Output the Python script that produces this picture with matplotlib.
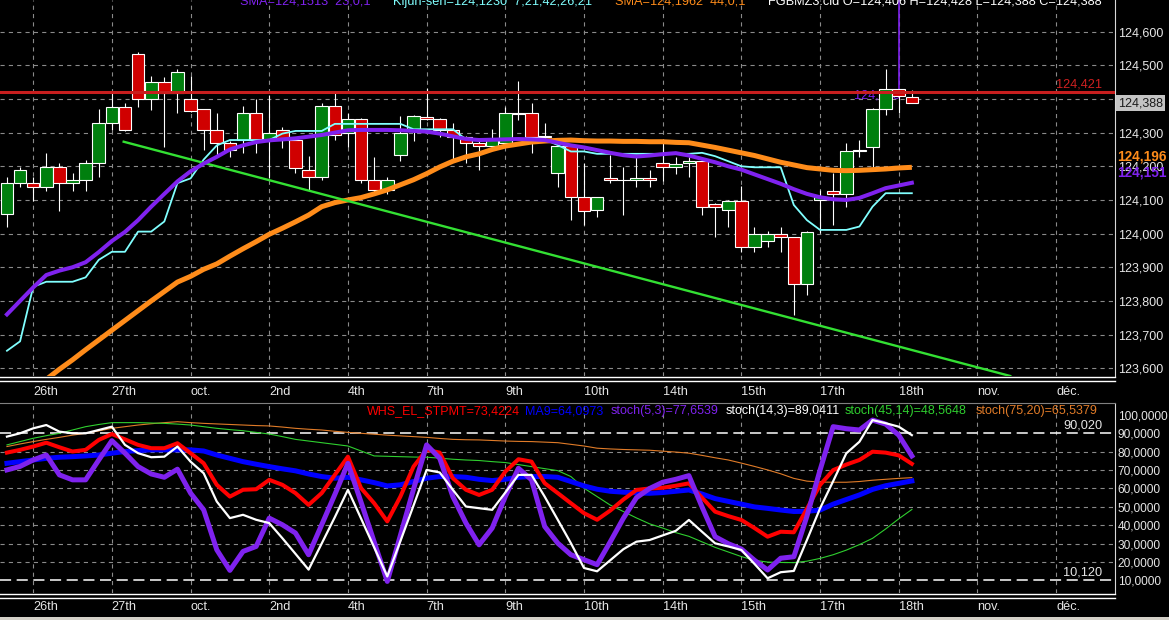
import matplotlib
matplotlib.use('Agg')
import matplotlib.pyplot as plt
from matplotlib.patches import Rectangle
from matplotlib.lines import Line2D
import matplotlib.transforms as mtransforms

plt.rcParams['font.family'] = ['Liberation Sans', 'DejaVu Sans']
plt.rcParams['lines.scale_dashes'] = False

# ---- price bars (FGBMZ3) ----
opens = [124.058, 124.150, 124.150, 124.138, 124.198, 124.150, 124.159, 124.209, 124.328, 124.377,
         124.533, 124.399, 124.450, 124.419, 124.401, 124.369, 124.308, 124.268, 124.278, 124.358,
         124.278, 124.308, 124.278, 124.189, 124.167, 124.379, 124.298, 124.340, 124.159, 124.130,
         124.234, 124.308, 124.347, 124.340, 124.308, 124.288, 124.268, 124.260, 124.268, 124.356,
         124.358, 124.290, 124.179, 124.260, 124.108, 124.070, 124.166, 124.159, 124.159, 124.164,
         124.211, 124.197, 124.209, 124.217, 124.088, 124.070, 124.098, 123.961, 123.979, 123.999,
         123.989, 123.850, 124.100, 124.128, 124.118, 124.246, 124.258, 124.369, 124.429, 124.406]
highs = [124.169, 124.199, 124.169, 124.239, 124.209, 124.181, 124.219, 124.370, 124.417, 124.387,
         124.539, 124.468, 124.465, 124.489, 124.468, 124.370, 124.358, 124.275, 124.378, 124.399,
         124.412, 124.318, 124.285, 124.231, 124.387, 124.417, 124.359, 124.342, 124.229, 124.167,
         124.350, 124.352, 124.432, 124.342, 124.328, 124.290, 124.285, 124.310, 124.377, 124.452,
         124.389, 124.328, 124.262, 124.262, 124.209, 124.110, 124.234, 124.199, 124.229, 124.189,
         124.268, 124.227, 124.229, 124.227, 124.090, 124.100, 124.140, 124.019, 124.009, 124.021,
         123.991, 124.008, 124.130, 124.179, 124.268, 124.278, 124.372, 124.489, 124.431, 124.428]
lows = [124.019, 124.137, 124.098, 124.128, 124.068, 124.128, 124.128, 124.167, 124.308, 124.306,
        124.377, 124.367, 124.258, 124.358, 124.362, 124.249, 124.229, 124.229, 124.239, 124.239,
        124.164, 124.255, 124.179, 124.130, 124.159, 124.278, 124.258, 124.150, 124.120, 124.118,
        124.217, 124.276, 124.338, 124.288, 124.219, 124.209, 124.189, 124.258, 124.262, 124.338,
        124.239, 124.280, 124.138, 124.041, 124.026, 124.049, 124.150, 124.055, 124.138, 124.138,
        124.157, 124.177, 124.167, 124.055, 123.989, 124.019, 123.946, 123.946, 123.959, 123.946,
        123.758, 123.818, 124.001, 124.026, 124.078, 124.227, 124.197, 124.353, 124.358, 124.388]
closes = [124.150, 124.189, 124.138, 124.198, 124.150, 124.159, 124.209, 124.328, 124.377, 124.308,
          124.399, 124.450, 124.419, 124.479, 124.364, 124.308, 124.270, 124.249, 124.358, 124.278,
          124.298, 124.278, 124.194, 124.167, 124.379, 124.293, 124.340, 124.159, 124.130, 124.159,
          124.298, 124.350, 124.340, 124.308, 124.288, 124.268, 124.260, 124.278, 124.358, 124.358,
          124.288, 124.286, 124.260, 124.108, 124.068, 124.108, 124.159, 124.159, 124.164, 124.159,
          124.197, 124.207, 124.217, 124.078, 124.078, 124.098, 123.961, 123.999, 123.999, 123.989,
          123.850, 124.006, 124.110, 124.118, 124.246, 124.248, 124.369, 124.429, 124.410, 124.388]

sma23 = [123.760, 123.800, 123.840, 123.877, 123.890, 123.900, 123.915, 123.945, 123.978, 124.005,
         124.040, 124.080, 124.118, 124.155, 124.185, 124.208, 124.228, 124.250, 124.262, 124.272,
         124.277, 124.280, 124.283, 124.288, 124.293, 124.300, 124.307, 124.308, 124.308, 124.308,
         124.307, 124.305, 124.303, 124.297, 124.289, 124.281, 124.278, 124.279, 124.280, 124.281,
         124.280, 124.278, 124.270, 124.262, 124.256, 124.248, 124.240, 124.233, 124.229, 124.232,
         124.236, 124.239, 124.232, 124.222, 124.212, 124.200, 124.190, 124.176, 124.162, 124.148,
         124.132, 124.118, 124.108, 124.102, 124.100, 124.106, 124.120, 124.135, 124.143, 124.151]
kijun = [123.652, 123.680, 123.842, 123.857, 123.857, 123.857, 123.870, 123.922, 123.946, 123.946,
         124.006, 124.006, 124.036, 124.150, 124.164, 124.220, 124.262, 124.278, 124.278, 124.278,
         124.278, 124.297, 124.305, 124.305, 124.305, 124.326, 124.326, 124.326, 124.326, 124.326,
         124.326, 124.310, 124.310, 124.310, 124.310, 124.280, 124.280, 124.280, 124.280, 124.280,
         124.280, 124.280, 124.263, 124.244, 124.244, 124.237, 124.237, 124.237, 124.237, 124.237,
         124.237, 124.237, 124.237, 124.240, 124.230, 124.215, 124.200, 124.197, 124.197, 124.197,
         124.085, 124.040, 124.011, 124.011, 124.011, 124.021, 124.080, 124.120, 124.120, 124.120]
sma44 = [123.480, 123.510, 123.540, 123.567, 123.597, 123.625, 123.655, 123.684, 123.713, 123.742,
         123.771, 123.800, 123.828, 123.856, 123.873, 123.894, 123.910, 123.933, 123.955, 123.976,
         123.998, 124.016, 124.035, 124.055, 124.080, 124.092, 124.100, 124.107, 124.118, 124.130,
         124.145, 124.160, 124.178, 124.198, 124.215, 124.228, 124.237, 124.250, 124.260, 124.266,
         124.272, 124.275, 124.277, 124.278, 124.276, 124.275, 124.275, 124.274, 124.274, 124.273,
         124.273, 124.271, 124.270, 124.263, 124.256, 124.248, 124.240, 124.232, 124.222, 124.212,
         124.204, 124.196, 124.192, 124.188, 124.187, 124.188, 124.190, 124.192, 124.195, 124.197]
trend_x = [8.9, 76.5]
trend_y = [124.273, 123.577]
level_red = 124.421
cursor_bar = 68

# ---- oscillators ----
whs = [79.5, 81.0, 82.8, 84.9, 82.4, 80.1, 81.0, 86.4, 89.6, 86.7,
       83.7, 81.9, 81.9, 84.6, 79.2, 73.7, 62.0, 55.6, 59.3, 59.6,
       64.7, 62.0, 57.5, 51.1, 57.5, 67.4, 77.3, 60.2, 52.0, 42.1,
       55.6, 71.9, 81.0, 79.5, 65.6, 59.3, 56.5, 59.3, 69.2, 75.9,
       74.6, 62.9, 57.5, 52.0, 46.6, 43.0, 48.0, 54.0, 59.2, 60.0,
       60.4, 61.5, 62.8, 55.0, 47.4, 45.0, 42.9, 38.5, 33.8, 36.5,
       36.2, 49.0, 61.9, 70.0, 73.0, 75.5, 80.0, 79.5, 78.0, 73.4]
ma9 = [73.7, 74.6, 75.5, 76.4, 77.0, 77.3, 77.7, 78.2, 79.2, 80.1,
       80.6, 81.0, 81.0, 81.0, 81.0, 80.4, 78.2, 76.4, 74.6, 73.2,
       71.9, 70.7, 69.6, 67.9, 66.5, 65.6, 66.1, 64.7, 63.2, 61.4,
       62.0, 63.8, 65.6, 66.5, 66.5, 66.1, 65.0, 64.3, 65.0, 66.1,
       66.5, 66.5, 66.1, 63.8, 61.4, 59.6, 58.5, 58.0, 57.6, 57.4,
       57.8, 58.5, 59.2, 57.0, 54.5, 53.0, 51.5, 50.0, 49.2, 48.3,
       47.5, 47.6, 48.3, 51.5, 54.0, 56.5, 59.5, 61.5, 62.8, 64.1]
stoch_5_3 = [70.1, 72.0, 75.5, 78.2, 67.4, 64.7, 64.7, 75.5, 86.0, 79.2,
             71.9, 67.9, 66.1, 70.5, 57.5, 48.4, 26.7, 15.5, 25.8, 28.5,
             43.9, 40.3, 35.8, 24.0, 40.3, 56.7, 73.7, 52.6, 31.0, 9.5,
             34.5, 59.6, 83.7, 76.4, 55.6, 41.2, 29.4, 38.5, 55.6, 71.0,
             64.7, 39.4, 30.3, 24.0, 21.3, 18.6, 31.0, 43.8, 55.0, 60.0,
             63.4, 65.0, 67.0, 50.0, 33.8, 30.0, 27.1, 21.0, 15.7, 22.1,
             22.9, 45.0, 70.0, 93.6, 92.5, 91.8, 97.2, 95.0, 89.0, 77.7]
stoch_14_3 = [88.2, 90.0, 92.7, 94.5, 90.9, 90.0, 90.0, 91.8, 93.6, 83.7,
              79.2, 77.0, 77.3, 82.8, 74.6, 68.3, 52.9, 43.9, 45.7, 43.0,
              41.2, 33.0, 24.5, 15.9, 30.1, 44.4, 59.3, 43.7, 28.0, 12.2,
              31.4, 50.7, 70.1, 68.7, 59.3, 50.2, 49.3, 48.4, 57.8, 67.4,
              67.4, 55.6, 43.0, 30.3, 16.8, 15.0, 21.0, 27.0, 31.1, 32.0,
              34.5, 37.0, 42.9, 36.5, 30.2, 28.5, 26.6, 19.0, 11.2, 14.5,
              15.2, 32.0, 49.2, 64.0, 79.1, 85.4, 97.2, 95.5, 93.6, 89.0]
stoch_45_14 = [83.7, 85.5, 87.3, 88.7, 90.0, 91.8, 93.6, 94.8, 95.8, 95.8,
               95.8, 95.6, 95.4, 95.0, 94.5, 93.6, 92.7, 92.0, 91.4, 90.5,
               89.6, 88.2, 86.7, 85.8, 84.9, 84.0, 83.1, 80.4, 77.7, 77.5,
               77.3, 77.1, 77.0, 76.5, 75.9, 75.5, 75.2, 74.6, 74.1, 73.0,
               71.9, 70.8, 69.7, 66.5, 60.2, 55.6, 51.0, 47.5, 44.0, 40.8,
               38.5, 36.0, 34.0, 31.0, 28.0, 25.5, 23.0, 21.0, 20.0, 19.8,
               19.7, 20.5, 22.0, 24.0, 26.5, 29.5, 32.9, 38.0, 43.5, 48.6]
stoch_75_20 = [82.8, 84.2, 85.5, 86.7, 87.8, 89.0, 90.0, 91.3, 92.7, 93.6,
               94.5, 95.2, 95.8, 96.3, 95.8, 95.4, 95.1, 94.8, 94.5, 94.2,
               94.0, 93.4, 92.7, 92.2, 91.8, 91.1, 90.5, 90.0, 89.5, 89.0,
               88.6, 88.2, 87.8, 87.2, 86.7, 86.5, 86.4, 86.1, 85.8, 85.6,
               85.5, 85.2, 84.9, 84.0, 83.1, 81.9, 81.5, 81.2, 81.0, 80.8,
               80.3, 79.8, 79.2, 78.0, 76.7, 75.5, 73.8, 72.0, 70.1, 68.0,
               65.5, 64.0, 63.5, 63.4, 63.4, 63.8, 64.5, 65.0, 65.5, 65.9]
upper_band = 90.02
lower_band = 10.12

date_bars = [2, 8, 14, 20, 26, 32, 38, 44, 50, 56, 62, 68, 74, 80]
date_labels = ['26th', '27th', 'oct.', '2nd', '4th', '7th', '9th', '10th',
               '14th', '15th', '17th', '18th', 'nov.', 'déc.']
price_ticks = [123.6, 123.7, 123.8, 123.9, 124.0, 124.1, 124.2, 124.3, 124.4, 124.5, 124.6]
osc_ticks = [10, 20, 30, 40, 50, 60, 70, 80, 90, 100]

# ---- layout (pixel based) ----
W, H = 1169, 620
def fx(px):
    return px / W
def fy(py):
    return 1 - py / H

fig = plt.figure(figsize=(W / 100, H / 100), dpi=100, facecolor='black')
ax = fig.add_axes([0, fy(376), fx(1115), 376 / H], facecolor='black')
ax2 = fig.add_axes([0, fy(593), fx(1115), (593 - 403) / H], facecolor='black')

grid_col = '#8a8a8a'
txt_col = '#e6e6e6'
purple = '#7f22ee'
cyan = '#80ffff'
orange = '#ff8c1a'
fs = 9.2

for a in (ax, ax2):
    a.set_xlim(-0.53, 84.49)
    for s in a.spines.values():
        s.set_visible(False)
    a.spines['right'].set_visible(True)
    a.spines['right'].set_color('#d8d8d8')
    a.yaxis.tick_right()
    a.tick_params(length=0, colors=txt_col, labelsize=fs)
    a.set_xticks(date_bars)
    a.set_xticklabels(date_labels)
    for lbl in a.get_xticklabels():
        lbl.set_ha('left')
    a.grid(axis='x', color=grid_col, lw=0.8, dashes=(3, 3))
    a.set_axisbelow(True)

ax2.spines['top'].set_visible(True)
ax2.spines['top'].set_color('#808080')

# main panel
ax.set_ylim(123.577, 124.694)
ax.set_yticks(price_ticks)
ax.set_yticklabels(['' if abs(v - 124.4) < 1e-6 else f'{v:.3f}'.replace('.', ',') for v in price_ticks])
ax.tick_params(axis='x', pad=7)
ax.tick_params(axis='y', pad=2, labelsize=9)
ax.grid(axis='y', color=grid_col, lw=0.8, dashes=(3, 3))

ax.vlines(cursor_bar, level_red - 0.015, 124.694, color=purple, lw=1.2, zorder=2)
ax.text(cursor_bar + 0.1, level_red - 0.01, '124,413', color=purple, fontsize=fs,
        ha='right', va='center', zorder=2)

for i, (o, h, l, c) in enumerate(zip(opens, highs, lows, closes)):
    ax.vlines(i, l, h, color='white', lw=0.8, zorder=3)
    col = '#007f0e' if c >= o else '#d00000'
    ax.add_patch(Rectangle((i - 0.48, min(o, c)), 0.96, max(abs(c - o), 0.0006),
                           facecolor=col, edgecolor='white', lw=0.8, zorder=4))

xs = list(range(len(closes)))
ax.plot(xs, sma44, color=orange, lw=3.6, zorder=5, solid_capstyle='butt')
ax.plot(xs, kijun, color=cyan, lw=1.3, zorder=6)
ax.plot(xs, sma23, color=purple, lw=2.9, zorder=7)
ax.plot(trend_x, trend_y, color='#33e033', lw=1.7, zorder=6)
ax.axhline(level_red, color='#c81e1e', lw=2.2, zorder=8)
ax.text(1102 / 1115, level_red + 0.022, '124,421', color='#d02020', fontsize=fs,
        ha='right', va='center', transform=mtransforms.blended_transform_factory(ax.transAxes, ax.transData))

# main header texts (cut by the top edge, as in the source)
fig.text(fx(240), fy(5), 'SMA=124,1513  23,0,1', color=purple, fontsize=fs, va='baseline')
fig.text(fx(393), fy(5), 'Kijun-sen=124,1230  7,21,42,26,21', color=cyan, fontsize=fs, va='baseline')
fig.text(fx(615), fy(5), 'SMA=124,1962  44,0,1', color=orange, fontsize=fs, va='baseline')
fig.text(fx(768), fy(5), 'FGBMZ3.cld O=124,406 H=124,428 L=124,388 C=124,388', color='white',
         fontsize=fs, va='baseline')

# right-side value markers
fig.text(fx(1118), fy(103), '124,388', color='#1a1a1a', fontsize=9, va='center', zorder=10,
         bbox=dict(boxstyle='square,pad=0.15', facecolor='#c4c4c4', edgecolor='none'))
fig.text(fx(1117), fy(157), '124,196', color=orange, fontsize=9.8, fontweight='bold', va='center', zorder=10)
fig.text(fx(1117), fy(172.5), '124,151', color=purple, fontsize=9.8, fontweight='bold', va='center', zorder=10)

# lower panel
ax2.set_ylim(3.2, 106.47)
ax2.set_yticks(osc_ticks)
ax2.set_yticklabels([f'{v:.4f}'.replace('.', ',') for v in osc_ticks])
ax2.tick_params(axis='x', pad=6)
ax2.tick_params(axis='y', pad=2, labelsize=8.6)
for lev in range(20, 90, 10):
    ax2.axhline(lev, color=grid_col, lw=0.8, dashes=(3, 3), zorder=0)
ax2.axhline(upper_band, color='white', lw=1.1, dashes=(8, 4), zorder=1)
ax2.axhline(lower_band, color='white', lw=1.1, dashes=(8, 4), zorder=1)
bt = mtransforms.blended_transform_factory(ax2.transAxes, ax2.transData)
ax2.text(1102 / 1115, upper_band + 4.0, '90,020', color=txt_col, fontsize=fs, ha='right', va='center', transform=bt)
ax2.text(1102 / 1115, lower_band + 4.0, '10,120', color=txt_col, fontsize=fs, ha='right', va='center', transform=bt)

ax2.plot(xs, stoch_75_20, color='#e07b28', lw=0.8, zorder=2)
ax2.plot(xs, stoch_45_14, color='#2fcf2f', lw=0.8, zorder=2)
ax2.plot(xs, ma9, color='#0000ff', lw=3.6, zorder=3)
ax2.plot(xs, whs, color='#ff0000', lw=2.9, zorder=4)
ax2.plot(xs, stoch_5_3, color=purple, lw=3.6, zorder=5)
ax2.plot(xs, stoch_14_3, color='white', lw=1.6, zorder=6)

legend_items = [(367, 'WHS_EL_STPMT=73,4224', '#ff0000'),
                (525, 'MA9=64,0973', '#0000ff'),
                (611, 'stoch(5,3)=77,6539', purple),
                (726, 'stoch(14,3)=89,0411', 'white'),
                (845, 'stoch(45,14)=48,5648', '#2fcf2f'),
                (976, 'stoch(75,20)=65,5379', '#e07b28')]
for px, label, col in legend_items:
    fig.text(fx(px), fy(411), label, color=col, fontsize=9, va='center')

# panel separators
for py in (377, 380.5, 594, 597.5):
    fig.add_artist(Line2D([0, fx(1115)], [fy(py), fy(py)], color='white', lw=1.0))
fig.add_artist(Rectangle((0, 0), 1, 3 / H, transform=fig.transFigure, facecolor='#d4d0c8', edgecolor='none'))

fig.savefig('out.png', dpi=100, facecolor='black')
